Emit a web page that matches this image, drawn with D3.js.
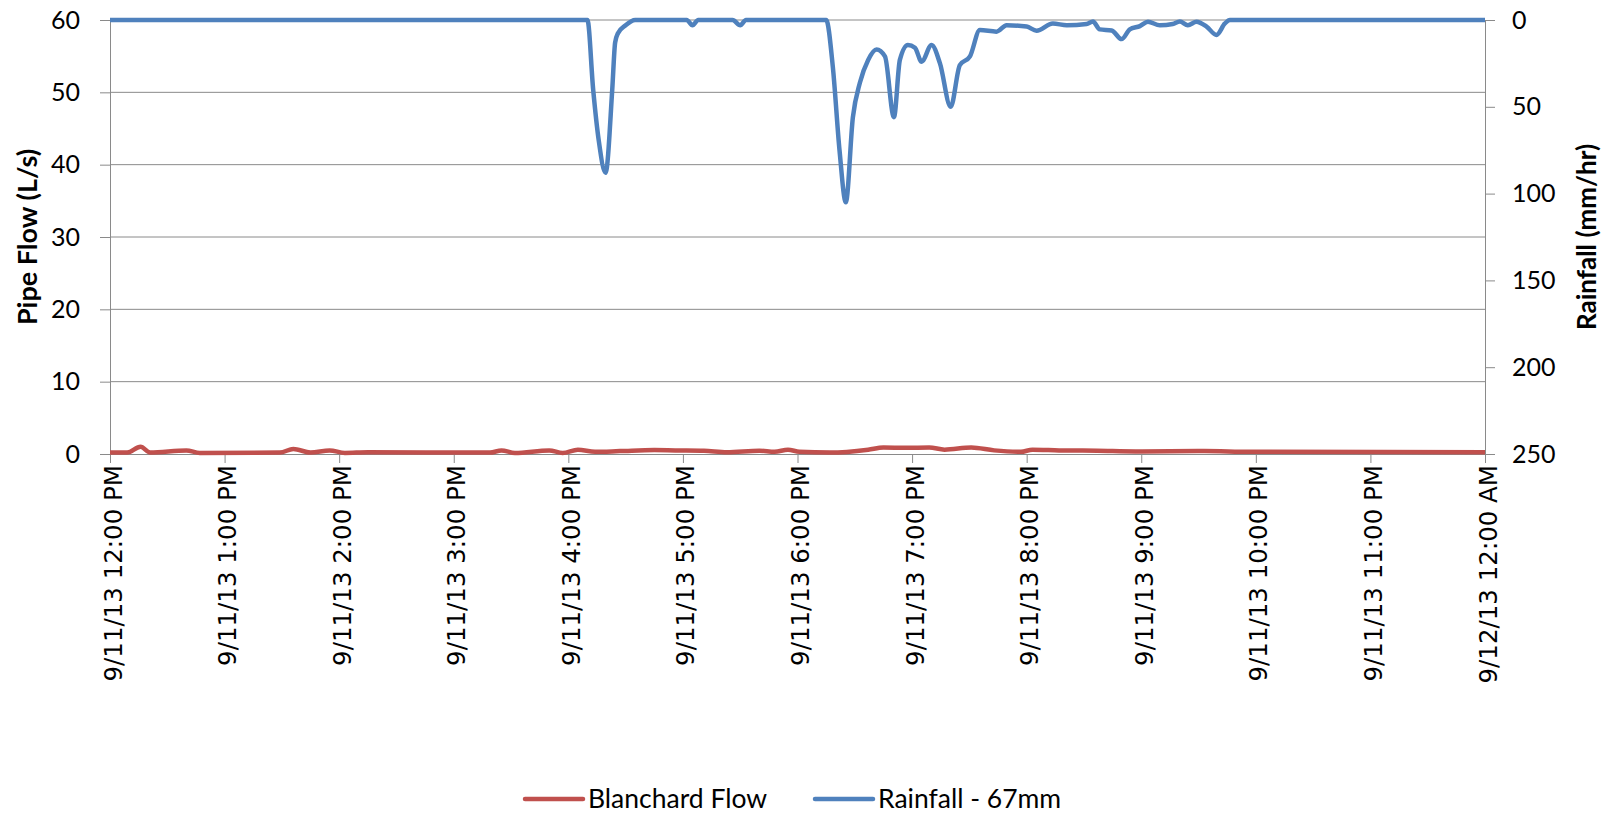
<!DOCTYPE html>
<html>
<head>
<meta charset="utf-8">
<script src="https://cdn.jsdelivr.net/npm/d3@7"></script>
<style>
  html, body { margin: 0; padding: 0; background: #fff; }
  svg { display: block; }
</style>
</head>
<body>
<div id="chart"></div>
<script>
// minutes after 9/11/13 12:00 PM
const flowMinutes = [0, 9, 16, 21, 40, 47, 89, 96, 105, 115, 123, 135, 185, 199, 205, 212, 230, 237, 245, 254, 267, 285, 296, 311, 323, 340, 348, 355, 361, 377, 397, 405, 417, 429, 437, 451, 463, 477, 483, 497, 517, 537, 573, 597, 720];
const flowValues  = [0.2, 0.2, 1.0, 0.2, 0.5, 0.15, 0.2, 0.7, 0.2, 0.5, 0.15, 0.25, 0.2, 0.2, 0.5, 0.15, 0.5, 0.15, 0.6, 0.3, 0.4, 0.55, 0.5, 0.45, 0.25, 0.45, 0.3, 0.6, 0.3, 0.2, 0.6, 0.9, 0.85, 0.9, 0.6, 0.9, 0.5, 0.3, 0.6, 0.5, 0.45, 0.35, 0.4, 0.3, 0.25];

const rainMinutes = [0, 250, 253, 256, 259.5, 263, 264.5, 266, 270, 275, 302, 305, 308, 326, 330, 333, 375, 378.5, 382, 385.3, 389, 392.7, 397, 401.4, 405.8, 410.5, 413.6, 417.8, 421.5, 425, 430.2, 434.6, 440.2, 445, 450.3, 455.5, 464.2, 469.5, 480, 485.2, 493.7, 501, 511.4, 514.7, 518.3, 524.5, 529.7, 534, 539.3, 543.5, 549.7, 556.5, 560.2, 564.4, 568.9, 574.2, 579.4, 583.8, 586.4, 720];
const rainValues  = [0, 0, 40, 70, 88, 40, 13, 7.6, 3, 0, 0, 3, 0, 0, 3, 0, 0, 27, 75, 105, 56, 36, 23, 17, 21, 56, 23, 14.4, 16, 24, 14.4, 25, 50, 26, 21, 5.8, 6.7, 3, 3.8, 6.2, 2, 3, 2.3, 0.9, 5.4, 6, 11, 5.4, 3.5, 1, 3, 2.3, 0.8, 3, 1, 3.8, 8.6, 2, 0, 0];

const flowTicks = [0, 10, 20, 30, 40, 50, 60];
const rainTicks = [0, 50, 100, 150, 200, 250];
const seriesNames = ["Blanchard Flow", "Rainfall - 67mm"];
const seriesColors = ["#C0504D", "#4F81BD"];

const width = 1604, height = 814;
const margin = { top: 20, right: 119, bottom: 360, left: 110 };
const start = new Date(2013, 8, 11, 12, 0);
const end = new Date(2013, 8, 12, 0, 0);
const toDate = m => new Date(start.getTime() + m * 60000);

const svg = d3.select("#chart").append("svg")
  .attr("width", width)
  .attr("height", height);

const x = d3.scaleTime()
  .domain([start, end])
  .range([margin.left, width - margin.right]);
const yFlow = d3.scaleLinear()
  .domain([0, 60])
  .range([height - margin.bottom, margin.top]);
const yRain = d3.scaleLinear()
  .domain([0, 250])
  .range([margin.top, height - margin.bottom]);

const gridColor = "#8a8a8a";

// gridlines
svg.append("g")
  .selectAll("line")
  .data(flowTicks.slice(1))
  .join("line")
  .attr("x1", margin.left)
  .attr("x2", width - margin.right)
  .attr("y1", d => yFlow(d))
  .attr("y2", d => yFlow(d))
  .attr("stroke", gridColor)
  .attr("stroke-width", 1);

// left axis
const leftAxis = svg.append("g")
  .attr("transform", `translate(${margin.left},0)`)
  .call(d3.axisLeft(yFlow).tickValues(flowTicks).tickSize(10).tickSizeOuter(0).tickPadding(20));

// right axis
const rightAxis = svg.append("g")
  .attr("transform", `translate(${width - margin.right},0)`)
  .call(d3.axisRight(yRain).tickValues(rainTicks).tickSize(10).tickSizeOuter(0).tickPadding(17));

[leftAxis, rightAxis].forEach(g => {
  g.selectAll("path, line").attr("stroke", gridColor);
  g.selectAll("text")
    .style("font-family", "Lato, 'Liberation Sans', sans-serif")
    .style("font-size", "25px")
    .attr("fill", "#000");
});

// bottom axis
const fmt = d3.timeFormat("%-m/%-d/%y %-I:%M %p");
const bottomAxis = svg.append("g")
  .attr("transform", `translate(0,${height - margin.bottom})`)
  .call(d3.axisBottom(x).ticks(d3.timeHour.every(1)).tickFormat(fmt).tickSize(9).tickSizeOuter(0));
bottomAxis.selectAll("path, line").attr("stroke", gridColor);
bottomAxis.selectAll("text")
  .attr("transform", "rotate(-90)")
  .attr("text-anchor", "end")
  .attr("x", -11)
  .attr("y", 0)
  .attr("dy", "0.45em")
  .attr("fill", "#000")
  .style("font-family", "'DejaVu Sans', sans-serif")
  .style("font-size", "24.5px");

// axis titles
svg.append("text")
  .attr("transform", `translate(37,${(margin.top + height - margin.bottom) / 2}) rotate(-90)`)
  .attr("text-anchor", "middle")
  .style("font-family", "Lato, sans-serif")
  .style("font-weight", "bold")
  .style("font-size", "27px")
  .text("Pipe Flow (L/s)");

svg.append("text")
  .attr("transform", `translate(1596,${(margin.top + height - margin.bottom) / 2}) rotate(-90)`)
  .attr("text-anchor", "middle")
  .style("font-family", "Lato, sans-serif")
  .style("font-weight", "bold")
  .style("font-size", "26px")
  .text("Rainfall (mm/hr)");

// series
const flowLine = d3.line()
  .x((d, i) => x(toDate(flowMinutes[i])))
  .y(d => yFlow(d))
  .curve(d3.curveMonotoneX);
const rainLine = d3.line()
  .x((d, i) => x(toDate(rainMinutes[i])))
  .y(d => yRain(d))
  .curve(d3.curveMonotoneX);

svg.append("path")
  .datum(flowValues)
  .attr("fill", "none")
  .attr("stroke", seriesColors[0])
  .attr("stroke-width", 4.5)
  .attr("stroke-linejoin", "round")
  .attr("d", flowLine);

svg.append("path")
  .datum(rainValues)
  .attr("fill", "none")
  .attr("stroke", seriesColors[1])
  .attr("stroke-width", 4.5)
  .attr("stroke-linejoin", "round")
  .attr("d", rainLine);

// legend
const legendX = [525, 815];
const legend = svg.append("g")
  .selectAll("g")
  .data(seriesNames)
  .join("g")
  .attr("transform", (d, i) => `translate(${legendX[i]},799)`);
legend.append("line")
  .attr("x1", 0).attr("x2", 58)
  .attr("stroke", (d, i) => seriesColors[i])
  .attr("stroke-width", 4.5)
  .attr("stroke-linecap", "round");
legend.append("text")
  .attr("x", 63)
  .attr("dy", "0.35em")
  .style("font-family", "Lato, sans-serif")
  .style("font-size", "26.5px")
  .text(d => d);
</script>
</body>
</html>
